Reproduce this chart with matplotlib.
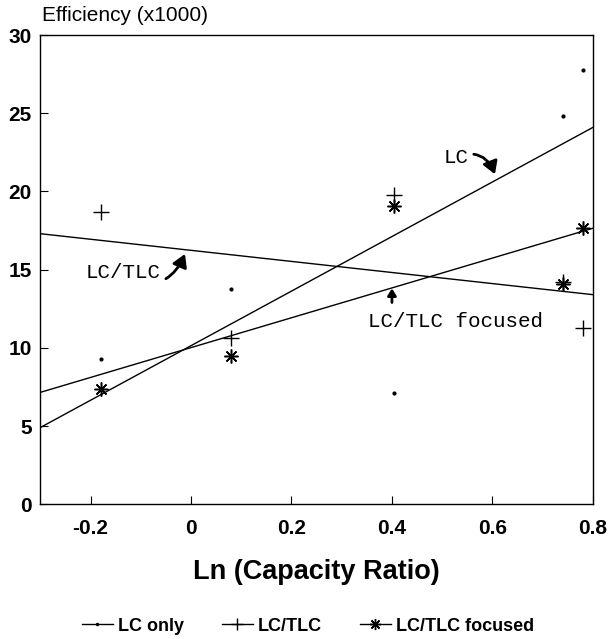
import matplotlib
matplotlib.use("Agg")
import matplotlib.pyplot as plt
from matplotlib.lines import Line2D

# capacity ratio (ln) for the five observations
x_vals = [-0.18, 0.08, 0.405, 0.74, 0.78]

lc_only = [9.3, 13.75, 7.1, 24.8, 27.8]
lc_tlc = [18.7, 10.6, 19.8, 14.2, 11.3]
lc_tlc_focused = [7.35, 9.45, 19.05, 14.1, 17.65]

# fitted lines, value at left (-0.3) and right (0.8) ends
fit_x = [-0.3, 0.8]
fit_lc = [4.9, 24.1]
fit_lc_tlc = [17.3, 13.4]
fit_focused = [7.15, 17.65]

x_ticks = [-0.2, 0, 0.2, 0.4, 0.6, 0.8]
x_ticklabels = ['-0.2', '0', '0.2', '0.4', '0.6', '0.8']
y_ticks = [0, 5, 10, 15, 20, 25, 30]

plt.rcParams['font.family'] = ['Liberation Sans', 'DejaVu Sans']
star = (8, 2, 0)
mono = ['Liberation Mono', 'DejaVu Sans Mono']

fig = plt.figure(figsize=(6.1, 6.39), dpi=100)
ax = fig.add_axes([0.066, 0.211, 0.906, 0.734])

ax.plot(fit_x, fit_lc, color='black', lw=1.0)
ax.plot(fit_x, fit_lc_tlc, color='black', lw=1.0)
ax.plot(fit_x, fit_focused, color='black', lw=1.0)

ax.plot(x_vals, lc_only, ls='none', marker='.', color='black', ms=4)
ax.plot(x_vals, lc_tlc, ls='none', marker='+', color='black', ms=11, mew=1.0)
ax.plot(x_vals, lc_tlc_focused, ls='none', marker=star, color='black', ms=10, mew=1.1)

ax.set_xlim(-0.3, 0.8)
ax.set_ylim(0, 30)
ax.set_xticks(x_ticks)
ax.set_xticklabels(x_ticklabels)
ax.set_yticks(y_ticks)
ax.tick_params(direction='in', length=6, width=0.8, labelsize=15)
ax.tick_params(axis='x', pad=11)
ax.tick_params(axis='y', pad=6)
for lab in ax.get_xticklabels() + ax.get_yticklabels():
    lab.set_fontweight('bold')
for s in ax.spines.values():
    s.set_linewidth(1.0)

ax.set_xlabel('Ln (Capacity Ratio)', fontsize=19.5, fontweight='bold', labelpad=15)
fig.text(0.069, 0.976, 'Efficiency (x1000)', fontsize=15, ha='left', va='center')

arrow = dict(arrowstyle='-|>,head_width=0.3,head_length=0.5', color='black', lw=2.0,
             shrinkA=2, shrinkB=0)
ax.annotate('LC', xy=(0.605, 21.1), xytext=(0.527, 22.2), fontsize=15, family=mono,
            ha='center', va='center',
            arrowprops=dict(arrow, connectionstyle='arc3,rad=-0.5'))
ax.annotate('LC/TLC', xy=(-0.012, 16.0), xytext=(-0.135, 14.85), fontsize=15, family=mono,
            ha='center', va='center',
            arrowprops=dict(arrow, connectionstyle='arc3,rad=0.6'))
ax.text(0.352, 11.7, 'LC/TLC focused', fontsize=15, family=mono, ha='left', va='center')
ax.annotate('', xy=(0.40, 13.8), xytext=(0.40, 12.9),
            arrowprops=dict(arrowstyle='-|>,head_width=0.25,head_length=0.4', color='black',
                            lw=2.0, shrinkA=0, shrinkB=0))

handles = [
    Line2D([], [], color='black', lw=1.0, marker='.', ms=3),
    Line2D([], [], color='black', lw=1.0, marker='+', ms=9),
    Line2D([], [], color='black', lw=1.0, marker=star, ms=8),
]
fig.legend(handles, ['LC only', 'LC/TLC', 'LC/TLC focused'], loc='center',
           bbox_to_anchor=(0.505, 0.02), ncol=3, frameon=False, handlelength=1.7,
           handletextpad=0.3, columnspacing=2.1, prop={'weight': 'bold', 'size': 13})

fig.savefig('out.png', dpi=100)
